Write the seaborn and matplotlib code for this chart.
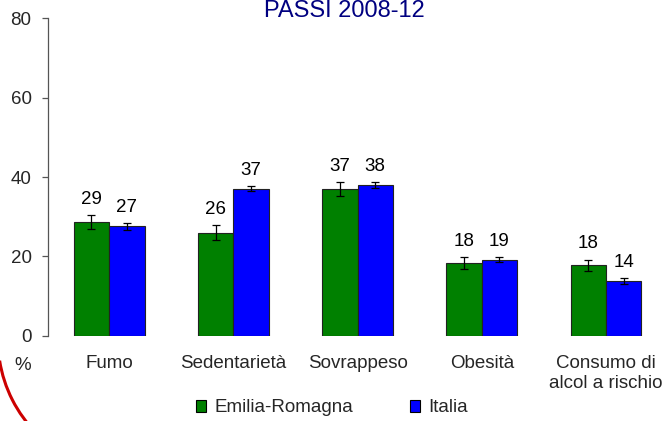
import numpy as np
import pandas as pd
import matplotlib.pyplot as plt
import seaborn as sns
from matplotlib.patches import Patch, Arc

# ----- DATA ---------------|
categories = ['Fumo', 'Sedentarietà', 'Sovrappeso', 'Obesità', 'Consumo di\nalcol a rischio']
regions = ['Emilia-Romagna', 'Italia']
er_values = [28.7, 26.0, 37.0, 18.4, 17.7]
it_values = [27.6, 37.1, 38.0, 19.2, 13.8]
er_err = [1.7, 1.8, 1.8, 1.5, 1.5]
it_err = [0.9, 0.7, 0.8, 0.6, 0.7]
er_labels = ['29', '26', '37', '18', '18']
it_labels = ['27', '37', '38', '19', '14']
title = 'PASSI 2008-12'
# --------------------------|

GREEN = '#008000'
BLUE = '#0000FF'
FONT = ['Liberation Sans', 'DejaVu Sans']
FS = 13.5

df = pd.DataFrame({
    'categoria': categories * 2,
    'regione': [regions[0]] * len(categories) + [regions[1]] * len(categories),
    'valore': er_values + it_values,
})

sns.set_style('white')
plt.rcParams['font.family'] = FONT

fig = plt.figure(figsize=(6.64, 4.21), dpi=100)
ax = fig.add_axes([47.5 / 664, 85.3 / 421, 1 - 47.5 / 664, 317.4 / 421])

sns.barplot(data=df, x='categoria', y='valore', hue='regione', order=categories,
            hue_order=regions, palette=[GREEN, BLUE], saturation=1, width=0.57,
            errorbar=None, edgecolor='#222222', linewidth=0.8, legend=False, ax=ax)

# error bars + value labels on top of each bar
for cont, errs, labels in zip(ax.containers, [er_err, it_err], [er_labels, it_labels]):
    for bar, e, lab in zip(cont, errs, labels):
        xc = bar.get_x() + bar.get_width() / 2
        h = bar.get_height()
        ax.errorbar(xc, h, yerr=e, fmt='none', ecolor='black', elinewidth=0.9,
                    capsize=3, capthick=0.9)
        ax.annotate(lab, (xc, h + e), xytext=(0, 8), textcoords='offset points',
                    ha='center', va='baseline', fontsize=FS, color='black')

ax.set_ylim(0, 80)
ax.set_xlim(-0.496, 4.467)
ax.set_yticks([0, 20, 40, 60, 80])
ax.set_xlabel('')
ax.set_ylabel('')
for s in ['top', 'right', 'bottom']:
    ax.spines[s].set_visible(False)
ax.spines['left'].set_color('#555555')
ax.spines['left'].set_linewidth(0.9)
ax.tick_params(axis='y', left=True, length=4.5, width=0.9, color='#555555',
               labelsize=FS, pad=7, direction='out')
ax.tick_params(axis='x', length=0, labelsize=FS, pad=14)

fig.text(344 / 664, 1 - 17 / 421, title, ha='center', va='baseline',
         color='#000080', fontsize=17)
fig.text(23 / 664, 1 - 366 / 421, '%', ha='center', va='center', fontsize=FS)

handles = [Patch(facecolor=GREEN, edgecolor='black', linewidth=0.8),
           Patch(facecolor=BLUE, edgecolor='black', linewidth=0.8)]
fig.legend(handles, regions, loc='center', bbox_to_anchor=(332 / 664, 1 - 408 / 421),
           ncol=2, frameon=False, fontsize=FS, handlelength=0.55, handleheight=0.55,
           handletextpad=0.45, columnspacing=3.0, borderaxespad=0, borderpad=0)

# red arc decoration in the lower-left corner (figure pixels)
arc = Arc((130, 81), 264, 264, theta1=189, theta2=225, color='#CC0000', lw=2.2,
          transform=None)
fig.patches.append(arc)

fig.savefig('out.png', dpi=100)
